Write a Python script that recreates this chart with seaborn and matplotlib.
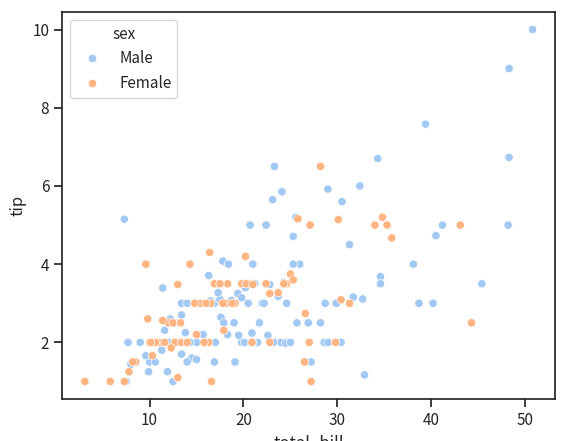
import matplotlib
matplotlib.use("Agg")
import matplotlib.pyplot as plt
import seaborn as sns
import pandas as pd

male_bill = [50.8,48.3,39.4,48.3,34.3,23.3,32.4,24.1,23.1,29.0,30.5,48.2,7.3,25.6,34.6,40.5,41.2,38.1,38.7,45.4,31.3,32.7,20.7,22.4,25.3,26.0,21.0,25.3,18.3,17.8,31.7,34.6,29.8,28.7,23.7,24.6,24.3,22.8,20.3,18.4,16.3,15.1,16.9,14.8,13.4,11.4,15.4,16.0,17.5,18.7,19.4,20.2,21.2,22.0,22.2,19.8,18.0,17.6,17.3,16.5,15.5,15.0,14.0,13.4,12.7,12.0,11.6,11.0,10.3,10.0,9.6,9.0,8.6,8.0,7.5,7.7,12.5,13.0,13.4,14.5,15.7,16.3,16.9,17.9,19.1,19.8,20.5,20.9,21.5,23.0,24.0,24.7,25.7,27.2,28.2,29.9,30.4,32.9,40.2,12.2,9.9,10.3,11.9,13.8,14.3,15.0,19.5,20.1,21.0,22.6,23.2,24.5,26.9,28.6,29.0,12.7,10.6,13.0,14.0,17.0,18.3,21.7,25.0,19.0,11.3]
male_tip = [10.0,9.0,7.58,6.73,6.7,6.5,6.0,5.85,5.65,5.92,5.6,5.0,5.15,5.2,3.68,4.73,5.0,4.0,3.0,3.5,4.5,3.11,5.0,5.0,4.71,4.0,4.0,4.0,4.0,4.08,3.16,3.5,3.0,3.0,3.18,3.0,3.54,3.48,3.5,4.0,3.71,3.0,3.0,3.02,3.0,3.39,3.0,3.0,3.1,3.07,3.25,3.4,3.5,3.0,3.0,3.14,3.0,2.64,3.27,3.06,3.0,2.0,3.0,2.7,2.5,2.0,2.31,2.0,2.0,1.5,1.66,2.0,1.5,1.44,1.0,2.0,1.0,2.0,1.7,1.6,2.2,2.0,1.5,2.5,1.5,2.0,3.0,2.24,2.0,2.0,2.0,2.0,2.5,1.5,2.5,3.0,2.0,1.17,3.0,2.6,1.25,2.0,1.25,2.25,2.0,1.56,2.18,2.0,2.0,2.18,2.0,1.98,2.5,2.0,2.0,2.0,1.5,2.0,1.5,2.0,2.2,2.5,2.0,2.5,1.8]
female_bill = [3.1,5.8,7.3,16.6,44.3,43.1,35.8,34.8,35.3,28.2,30.1,27.1,25.8,20.2,16.4,14.3,9.6,24.6,26.6,25.0,30.4,27.0,22.8,20.7,19.8,18.3,17.1,16.5,15.4,13.0,12.0,11.0,10.6,10.0,8.5,8.2,9.8,11.4,12.5,13.3,14.8,16.0,16.9,17.5,18.2,19.1,20.3,21.0,22.4,23.7,25.3,26.5,27.2,29.8,31.3,16.3,15.0,12.7,11.6,10.3,13.4,14.0,17.8,18.8,20.9,22.8,24.3,34.0,13.0,12.3,15.8,17.9,7.8,10.1]
female_tip = [1.0,1.0,1.0,1.0,2.5,5.0,4.67,5.2,5.0,6.5,5.14,5.0,5.16,4.2,4.3,4.0,4.0,3.5,2.74,3.75,3.09,2.0,3.25,3.5,3.5,3.5,3.5,3.0,3.0,3.48,2.5,2.0,2.0,2.0,1.5,1.5,2.6,2.56,2.5,2.5,3.0,3.0,3.5,3.5,3.0,3.0,3.5,3.48,3.5,3.27,3.6,1.5,1.0,2.0,3.0,2.0,2.2,2.0,2.0,1.66,2.0,2.0,3.0,3.0,2.0,2.0,3.5,5.0,1.1,1.86,2.0,2.31,1.25,2.0]

df = pd.DataFrame({
    "total_bill": male_bill + female_bill,
    "tip": male_tip + female_tip,
    "sex": ["Male"] * len(male_bill) + ["Female"] * len(female_bill),
})

sns.set_theme(style="ticks", palette="pastel")
plt.rcParams['font.family'] = ['Noto Sans CJK KR', 'DejaVu Sans']
fig, ax = plt.subplots(figsize=(5.68, 4.41), dpi=100)
sns.scatterplot(data=df, x="total_bill", y="tip", hue="sex", ax=ax)
ax.set_yticks([2, 4, 6, 8, 10])
plt.setp(ax.get_legend().get_texts(), fontsize=11)
plt.setp(ax.get_legend().get_title(), fontsize=11)
fig.subplots_adjust(left=0.11, right=0.977, top=0.973, bottom=0.095)
fig.savefig("out.png", dpi=100)
